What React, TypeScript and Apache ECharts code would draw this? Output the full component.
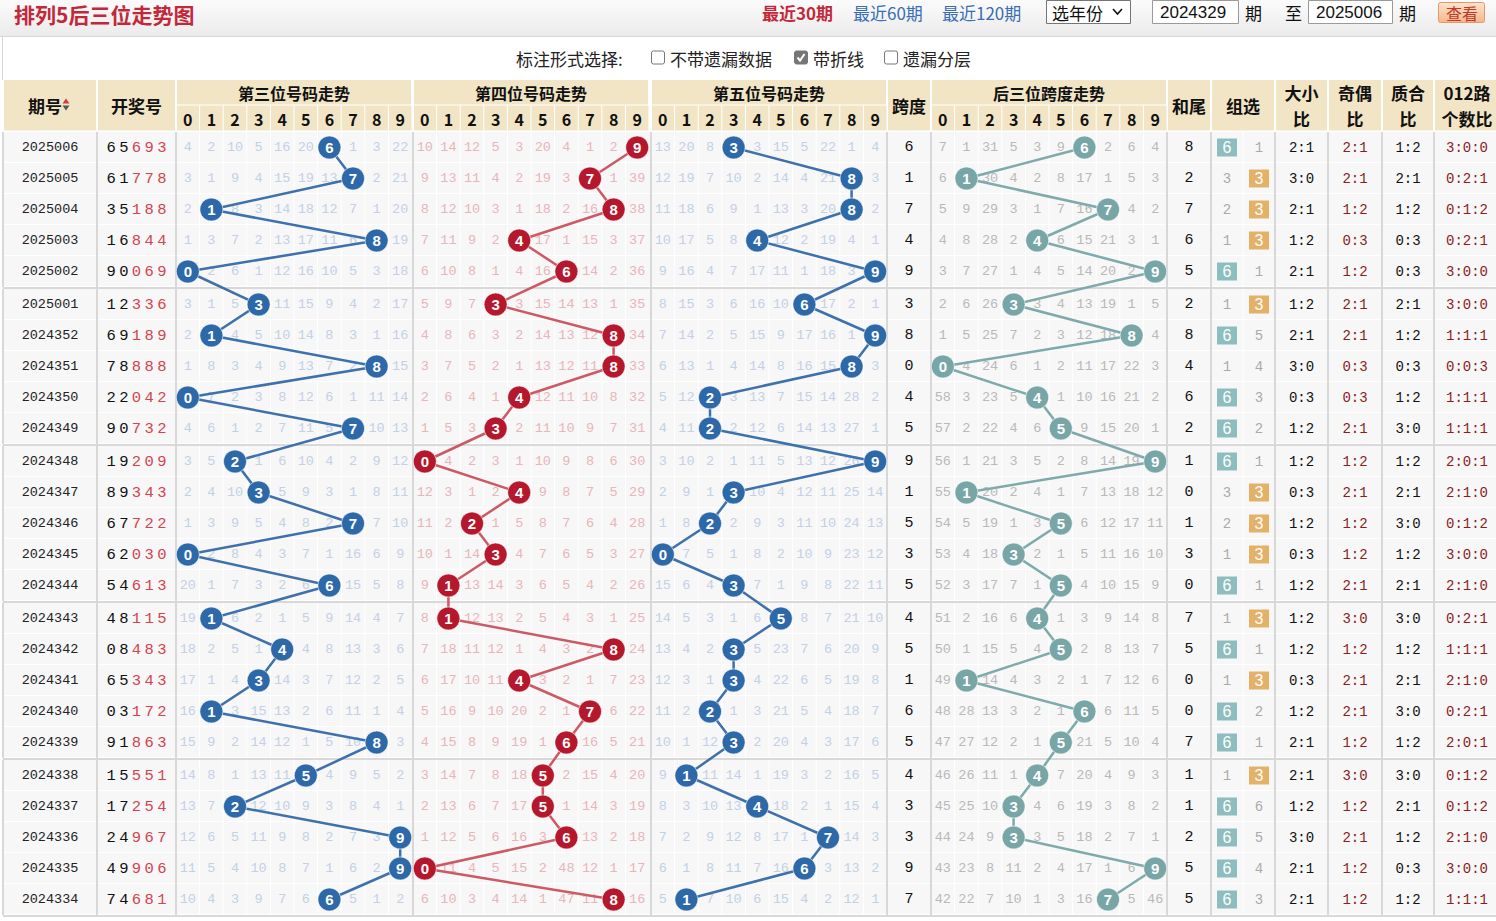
import React, { useEffect, useRef } from "react";
import * as echarts from "echarts";

// ---------------- DATA ----------------
const issues = ["2025006","2025005","2025004","2025003","2025002","2025001","2024352","2024351","2024350","2024349","2024348","2024347","2024346","2024345","2024344","2024343","2024342","2024341","2024340","2024339","2024338","2024337","2024336","2024335","2024334"];
const draws = ["65693","61778","35188","16844","90069","12336","69189","78888","22042","90732","19209","89343","67722","62030","54613","48115","08483","65343","03172","91863","15551","17254","24967","49906","74681"];
const digitTicks = ["0","1","2","3","4","5","6","7","8","9"];

// omission values (0 = hit cell, drawn as a ball)
const miss3 = [
  [4,2,10,5,16,20,0,1,3,22],[3,1,9,4,15,19,13,0,2,21],[2,0,8,3,14,18,12,7,1,20],[1,3,7,2,13,17,11,6,0,19],[0,2,6,1,12,16,10,5,3,18],
  [3,1,5,0,11,15,9,4,2,17],[2,0,4,5,10,14,8,3,1,16],[1,8,3,4,9,13,7,2,0,15],[0,7,2,3,8,12,6,1,11,14],[4,6,1,2,7,11,5,0,10,13],
  [3,5,0,1,6,10,4,2,9,12],[2,4,10,0,5,9,3,1,8,11],[1,3,9,5,4,8,2,0,7,10],[0,2,8,4,3,7,1,16,6,9],[20,1,7,3,2,6,0,15,5,8],
  [19,0,6,2,1,5,9,14,4,7],[18,2,5,1,0,4,8,13,3,6],[17,1,4,0,14,3,7,12,2,5],[16,0,3,15,13,2,6,11,1,4],[15,9,2,14,12,1,5,10,0,3],
  [14,8,1,13,11,0,4,9,5,2],[13,7,0,12,10,9,3,8,4,1],[12,6,5,11,9,8,2,7,3,0],[11,5,4,10,8,7,1,6,2,0],[10,4,3,9,7,6,0,5,1,2]
];
const miss4 = [
  [10,14,12,5,3,20,4,1,2,0],[9,13,11,4,2,19,3,0,1,39],[8,12,10,3,1,18,2,16,0,38],[7,11,9,2,0,17,1,15,3,37],[6,10,8,1,4,16,0,14,2,36],
  [5,9,7,0,3,15,14,13,1,35],[4,8,6,3,2,14,13,12,0,34],[3,7,5,2,1,13,12,11,0,33],[2,6,4,1,0,12,11,10,8,32],[1,5,3,0,2,11,10,9,7,31],
  [0,4,2,3,1,10,9,8,6,30],[12,3,1,2,0,9,8,7,5,29],[11,2,0,1,5,8,7,6,4,28],[10,1,14,0,4,7,6,5,3,27],[9,0,13,14,3,6,5,4,2,26],
  [8,0,12,13,2,5,4,3,1,25],[7,18,11,12,1,4,3,2,0,24],[6,17,10,11,0,3,2,1,7,23],[5,16,9,10,20,2,1,0,6,22],[4,15,8,9,19,1,0,16,5,21],
  [3,14,7,8,18,0,2,15,4,20],[2,13,6,7,17,0,1,14,3,19],[1,12,5,6,16,3,0,13,2,18],[0,11,4,5,15,2,48,12,1,17],[6,10,3,4,14,1,47,11,0,16]
];
const miss5 = [
  [13,20,8,0,3,15,5,22,1,4],[12,19,7,10,2,14,4,21,0,3],[11,18,6,9,1,13,3,20,0,2],[10,17,5,8,0,12,2,19,4,1],[9,16,4,7,17,11,1,18,3,0],
  [8,15,3,6,16,10,0,17,2,1],[7,14,2,5,15,9,17,16,1,0],[6,13,1,4,14,8,16,15,0,3],[5,12,0,3,13,7,15,14,28,2],[4,11,0,2,12,6,14,13,27,1],
  [3,10,2,1,11,5,13,12,26,0],[2,9,1,0,10,4,12,11,25,14],[1,8,0,2,9,3,11,10,24,13],[0,7,5,1,8,2,10,9,23,12],[15,6,4,0,7,1,9,8,22,11],
  [14,5,3,1,6,0,8,7,21,10],[13,4,2,0,5,23,7,6,20,9],[12,3,1,0,4,22,6,5,19,8],[11,2,0,1,3,21,5,4,18,7],[10,1,12,0,2,20,4,3,17,6],
  [9,0,11,14,1,19,3,2,16,5],[8,3,10,13,0,18,2,1,15,4],[7,2,9,12,8,17,1,0,14,3],[6,1,8,11,7,16,0,3,13,2],[5,0,7,10,6,15,4,2,12,1]
];
const spans = [6,1,7,4,9,3,8,0,4,5,9,1,5,3,5,4,5,1,6,5,4,3,3,9,7];
const missSpan = [
  [7,1,31,5,3,9,0,2,6,4],[6,0,30,4,2,8,17,1,5,3],[5,9,29,3,1,7,16,0,4,2],[4,8,28,2,0,6,15,21,3,1],[3,7,27,1,4,5,14,20,2,0],
  [2,6,26,0,3,4,13,19,1,5],[1,5,25,7,2,3,12,18,0,4],[0,4,24,6,1,2,11,17,22,3],[58,3,23,5,0,1,10,16,21,2],[57,2,22,4,6,0,9,15,20,1],
  [56,1,21,3,5,2,8,14,19,0],[55,0,20,2,4,1,7,13,18,12],[54,5,19,1,3,0,6,12,17,11],[53,4,18,0,2,1,5,11,16,10],[52,3,17,7,1,0,4,10,15,9],
  [51,2,16,6,0,1,3,9,14,8],[50,1,15,5,4,0,2,8,13,7],[49,0,14,4,3,2,1,7,12,6],[48,28,13,3,2,1,0,6,11,5],[47,27,12,2,1,0,21,5,10,4],
  [46,26,11,1,0,7,20,4,9,3],[45,25,10,0,4,6,19,3,8,2],[44,24,9,0,3,5,18,2,7,1],[43,23,8,11,2,4,17,1,6,0],[42,22,7,10,1,3,16,0,5,46]
];
const sumTails = [8,2,7,6,5,2,8,4,6,2,1,0,1,3,0,7,5,0,0,7,1,1,2,5,5];
const zu6Miss = [0,3,2,1,0,1,0,1,0,0,0,3,2,1,0,1,0,1,0,0,1,0,0,0,0];
const zu3Miss = [1,0,0,0,1,0,5,4,3,2,1,0,0,0,1,0,1,0,2,1,0,6,5,4,3];
const bigSmall = ["2:1","3:0","2:1","1:2","2:1","1:2","2:1","3:0","0:3","1:2","1:2","0:3","1:2","0:3","1:2","1:2","1:2","0:3","1:2","2:1","2:1","1:2","3:0","2:1","2:1"];
const oddEven = ["2:1","2:1","1:2","0:3","1:2","2:1","2:1","0:3","0:3","2:1","1:2","2:1","1:2","1:2","2:1","3:0","1:2","2:1","2:1","1:2","3:0","1:2","2:1","1:2","1:2"];
const primeComp = ["1:2","2:1","1:2","0:3","0:3","2:1","1:2","0:3","1:2","3:0","1:2","2:1","3:0","1:2","2:1","3:0","1:2","2:1","3:0","1:2","3:0","2:1","1:2","0:3","1:2"];
const road012 = ["3:0:0","0:2:1","0:1:2","0:2:1","3:0:0","3:0:0","1:1:1","0:0:3","1:1:1","1:1:1","2:0:1","2:1:0","0:1:2","3:0:0","2:1:0","0:2:1","1:1:1","2:1:0","0:2:1","2:0:1","0:1:2","0:1:2","2:1:0","3:0:0","1:1:1"];

// ---------------- LAYOUT ----------------
const W = 1496, H = 921;
const CELL_W = 23.6;
const ROW_H = 31;
const GROUP_GAP = 2;
const HEAD_TOP = 80;
const HEAD_MID = 105.5;
const BODY_TOP = 132;
const TABLE_LEFT = 3;
const L: any = {
  issue: { x: 3, w: 94 },
  draw: { x: 97, w: 79 },
  p3: { x: 176, w: 236 },
  p4: { x: 413, w: 236 },
  p5: { x: 651, w: 236 },
  span: { x: 887, w: 44 },
  spanTrend: { x: 931, w: 236 },
  sumTail: { x: 1167, w: 44 },
  group: { x: 1211, w: 64 },
  bs: { x: 1275, w: 53 },
  oe: { x: 1328, w: 54 },
  pc: { x: 1382, w: 52 },
  road: { x: 1434, w: 66 },
};
const rowTop = (i: number) => BODY_TOP + i * ROW_H + Math.floor(i / 5) * GROUP_GAP;
const rowCenter = (i: number) => rowTop(i) + ROW_H / 2;
const cellCenter = (key: string, d: number) => L[key].x + (d + 0.5) * CELL_W;

const MONO = '"Liberation Mono", "DejaVu Sans Mono", monospace';
const CJK = '"Noto Sans CJK SC", "Noto Sans", sans-serif';
const SANS = '"Liberation Sans", Arial, sans-serif';
const BEIGE = "#f1e5c5";
const CELL_BG = "#f7f7f7";
const SEP = "#d8d8d8";

function makeHelpers(api: any, ch: any[]) {
  const R = (x: number, y: number, w: number, h: number, fill: string) => {
    const p = api.coord([x, y]);
    const s = api.size([w, h]);
    ch.push({ type: "rect", shape: { x: p[0], y: p[1], width: s[0], height: s[1] }, style: { fill } });
  };
  const T = (x: number, y: number, text: string, fill: string, size: number, family: string, weight = "normal") => {
    const p = api.coord([x, y]);
    ch.push({
      type: "text", x: p[0], y: p[1],
      style: { text, fill, fontSize: size, fontFamily: family, fontWeight: weight, align: "center", verticalAlign: "middle", textAlign: "center", textVerticalAlign: "middle" },
    });
  };
  return { R, T };
}

function renderHeader(params: any, api: any) {
  const ch: any[] = [];
  const { R, T } = makeHelpers(api, ch);
  const top = HEAD_TOP, mid = HEAD_MID, bot = BODY_TOP - 0.5;
  const full: [string, string][] = [["issue", "期号"], ["draw", "开奖号"], ["span", "跨度"], ["sumTail", "和尾"], ["group", "组选"]];
  full.forEach(([k, label]) => {
    const c = L[k];
    R(c.x + 1, top, c.w - 2, bot - top - 1, BEIGE);
    const cx = k === "issue" ? c.x + c.w / 2 - 5 : c.x + c.w / 2;
    T(cx, (top + bot) / 2, label, "#111", 17, CJK, "bold");
  });
  const two: [string, string, string][] = [["bs", "大小", "比"], ["oe", "奇偶", "比"], ["pc", "质合", "比"], ["road", "012路", "个数比"]];
  two.forEach(([k, a, b]) => {
    const c = L[k];
    R(c.x + 1, top, c.w - 2, bot - top - 1, BEIGE);
    T(c.x + c.w / 2, (top + mid) / 2, a, "#111", 17, CJK, "bold");
    T(c.x + c.w / 2, (mid + bot) / 2, b, "#111", 17, CJK, "bold");
  });
  const sections: [string, string][] = [["p3", "第三位号码走势"], ["p4", "第四位号码走势"], ["p5", "第五位号码走势"], ["spanTrend", "后三位跨度走势"]];
  sections.forEach(([k, label]) => {
    const c = L[k];
    R(c.x + 1, top, c.w - 2, mid - top - 1, BEIGE);
    T(c.x + c.w / 2, (top + mid) / 2, label, "#111", 16, CJK, "bold");
    digitTicks.forEach((t, d) => {
      R(c.x + d * CELL_W + (d === 0 ? 1 : 0.5), mid, CELL_W - (d === 0 ? 1.5 : 1), bot - mid - 1, BEIGE);
      T(cellCenter(k, d), (mid + bot) / 2, t, "#111", 16, CJK, "bold");
    });
  });
  // sort arrows
  const a = api.coord([66, 104.5]);
  ch.push({ type: "polygon", shape: { points: [[a[0] - 3.5, a[1] - 1], [a[0] + 3.5, a[1] - 1], [a[0], a[1] - 6]] }, style: { fill: "#d23a44" } });
  ch.push({ type: "polygon", shape: { points: [[a[0] - 3.5, a[1] + 1], [a[0] + 3.5, a[1] + 1], [a[0], a[1] + 6]] }, style: { fill: "#555" } });
  return { type: "group", children: ch };
}

function renderRow(params: any, api: any) {
  const i = params.dataIndex;
  const ch: any[] = [];
  const { R, T } = makeHelpers(api, ch);
  const top = rowTop(i);
  const cy = rowCenter(i);
  // background
  R(TABLE_LEFT, top, W - TABLE_LEFT, ROW_H, CELL_BG);
  R(TABLE_LEFT, top + ROW_H - 1, W - TABLE_LEFT, 1, "#ffffff");
  ["p3", "p4", "p5", "spanTrend"].forEach((k) => {
    for (let d = 1; d < 10; d++) R(L[k].x + d * CELL_W - 0.5, top, 1, ROW_H, "#ffffff");
  });
  R(L.group.x + L.group.w / 2 - 0.5, top, 1, ROW_H, "#ffffff");
  ["issue", "draw", "p3", "p4", "p5", "span", "spanTrend", "sumTail", "group", "bs", "oe", "pc", "road"].forEach((k) => {
    R(L[k].x - 1, top, 2, ROW_H, SEP);
  });
  if (i % 5 === 4) R(TABLE_LEFT, top + ROW_H, W - TABLE_LEFT, GROUP_GAP, SEP);

  // texts
  T(L.issue.x + L.issue.w / 2, cy, issues[i], "#222", 13.5, MONO);
  const dc = L.draw.x + L.draw.w / 2;
  draws[i].split("").forEach((d, k) => {
    T(dc + (k - 2) * 12.7, cy, d, k < 2 ? "#111" : "#d4434f", 15.5, MONO);
  });
  const omi: [string, number[][], string][] = [["p3", miss3, "#c3d0e6"], ["p4", miss4, "#e8b5b9"], ["p5", miss5, "#c3d0e6"], ["spanTrend", missSpan, "#b9b9b9"]];
  omi.forEach(([k, arr, col]) => {
    arr[i].forEach((v, d) => {
      if (v !== 0) T(cellCenter(k, d), cy, String(v), col, 13.5, MONO);
    });
  });
  T(L.span.x + L.span.w / 2, cy, String(spans[i]), "#111", 15, MONO);
  T(L.sumTail.x + L.sumTail.w / 2, cy, String(sumTails[i]), "#111", 15, MONO);
  const g1 = L.group.x + L.group.w / 4, g2 = L.group.x + (L.group.w * 3) / 4;
  if (zu6Miss[i] === 0) {
    R(g1 - 10, cy - 9, 20, 18, "#8dbdbe");
    T(g1, cy, "6", "#ffffff", 16, SANS);
  } else T(g1, cy, String(zu6Miss[i]), "#aaaaaa", 14, MONO);
  if (zu3Miss[i] === 0) {
    R(g2 - 10, cy - 9, 20, 18, "#e4b169");
    T(g2, cy, "3", "#ffffff", 16, SANS);
  } else T(g2, cy, String(zu3Miss[i]), "#aaaaaa", 14, MONO);
  T(L.bs.x + L.bs.w / 2, cy, bigSmall[i], "#111", 14, MONO);
  T(L.oe.x + L.oe.w / 2, cy, oddEven[i], "#8b1c24", 14, MONO);
  T(L.pc.x + L.pc.w / 2, cy, primeComp[i], "#111", 14, MONO);
  T(L.road.x + L.road.w / 2, cy, road012[i], "#8b1c24", 14, MONO);
  return { type: "group", children: ch };
}

function trend(key: string, digits: number[], ball: string, line: string, name: string) {
  return {
    type: "line",
    name,
    data: digits.map((d, i) => [cellCenter(key, d), rowCenter(i), d]),
    symbol: "circle",
    symbolSize: 23,
    showSymbol: true,
    itemStyle: { color: ball, borderColor: "#ffffff", borderWidth: 0.6 },
    lineStyle: { color: line, width: 2.5 },
    label: {
      show: true, position: "inside",
      formatter: (p: any) => String(p.value[2]),
      color: "#ffffff", fontSize: 15, fontWeight: "bold", fontFamily: SANS,
    },
    emphasis: { disabled: true },
    silent: true,
    z: 5,
    clip: false,
  };
}

function buildOption() {
  const pos = (k: number) => draws.map((d) => Number(d[k]));
  const grad = new echarts.graphic.LinearGradient(0, 0, 0, 1, [
    { offset: 0, color: "#fbfbfb" },
    { offset: 1, color: "#ebebeb" },
  ]);
  const btnGrad = new echarts.graphic.LinearGradient(0, 0, 0, 1, [
    { offset: 0, color: "#fde4cc" },
    { offset: 1, color: "#f6b78a" },
  ]);
  const txt = (x: number, y: number, text: string, fill: string, size: number, weight = "normal", family = CJK) => ({
    type: "text", x, y, style: { text, fill, fontSize: size, fontWeight: weight, fontFamily: family, verticalAlign: "middle" },
  });
  const box = (x: number, checked: boolean) => {
    const els: any[] = [
      { type: "rect", shape: { x, y: 51, width: 13, height: 13, r: 2 }, style: { fill: checked ? "#767676" : "#ffffff", stroke: "#767676", lineWidth: 1 } },
    ];
    if (checked) els.push({ type: "polyline", shape: { points: [[x + 3, 57.5], [x + 5.5, 60.5], [x + 10, 54]] }, style: { stroke: "#ffffff", lineWidth: 2, fill: null } });
    return els;
  };
  const graphic: any[] = [
    { type: "rect", shape: { x: 0, y: 0, width: W, height: 36 }, style: { fill: grad } },
    { type: "rect", shape: { x: 0, y: 36, width: W, height: 1 }, style: { fill: "#d6d6d6" } },
    { type: "rect", shape: { x: 2, y: 37, width: 1, height: 43 }, style: { fill: "#d6d6d6" } },
    txt(14, 14, "排列5后三位走势图", "#c2283a", 21, "bold"),
    txt(762, 12, "最近30期", "#c2283a", 17, "bold"),
    txt(853, 12, "最近60期", "#3a6db5", 17),
    txt(942, 12, "最近120期", "#3a6db5", 17),
    { type: "rect", shape: { x: 1046.5, y: 0.5, width: 84, height: 23 }, style: { fill: "#ffffff", stroke: "#767676", lineWidth: 1 } },
    txt(1052, 12, "选年份", "#111", 17),
    { type: "polyline", shape: { points: [[1113, 9], [1117.5, 14], [1122, 9]] }, style: { stroke: "#111", lineWidth: 1.6, fill: null } },
    { type: "rect", shape: { x: 1152.5, y: 0.5, width: 86, height: 23 }, style: { fill: "#ffffff", stroke: "#9a9a9a", lineWidth: 1 } },
    txt(1160, 12, "2024329", "#111", 17, "normal", SANS),
    txt(1245, 12, "期", "#111", 17),
    txt(1285, 12, "至", "#111", 17),
    { type: "rect", shape: { x: 1308.5, y: 0.5, width: 84, height: 23 }, style: { fill: "#ffffff", stroke: "#9a9a9a", lineWidth: 1 } },
    txt(1316, 12, "2025006", "#111", 17, "normal", SANS),
    txt(1399, 12, "期", "#111", 17),
    { type: "rect", shape: { x: 1438.5, y: 2.5, width: 46, height: 20, r: 2 }, style: { fill: btnGrad, stroke: "#e39a6a", lineWidth: 1 } },
    txt(1446, 12.5, "查看", "#c0392b", 16),
    txt(516, 58, "标注形式选择:", "#222", 17),
    ...box(651.5, false),
    txt(670, 58, "不带遗漏数据", "#222", 17),
    ...box(794.5, true),
    txt(813, 58, "带折线", "#222", 17),
    ...box(884.5, false),
    txt(903, 58, "遗漏分层", "#222", 17),
  ];
  return {
    animation: false,
    backgroundColor: "#ffffff",
    grid: { left: 0, right: 0, top: 0, bottom: 0, containLabel: false },
    xAxis: { type: "value", min: 0, max: W, show: false },
    yAxis: { type: "value", min: 0, max: H, inverse: true, show: false },
    graphic,
    series: [
      { type: "custom", name: "header", data: [[0, HEAD_TOP]], renderItem: renderHeader, silent: true, z: 1 },
      { type: "custom", name: "rows", data: issues.map((_, i) => [0, rowCenter(i)]), renderItem: renderRow, silent: true, z: 2 },
      trend("p3", pos(2), "#2d68a8", "#3e70ac", "第三位"),
      trend("p4", pos(3), "#b5172c", "#cc5966", "第四位"),
      trend("p5", pos(4), "#2d68a8", "#3e70ac", "第五位"),
      trend("spanTrend", spans, "#78a6a7", "#7eaaab", "跨度"),
    ],
  };
}

export default function App() {
  const ref = useRef<HTMLDivElement>(null);
  useEffect(() => {
    document.body.style.margin = "0";
    const chart = echarts.init(ref.current as HTMLDivElement, null, { renderer: "svg" });
    chart.setOption(buildOption() as any);
    return () => chart.dispose();
  }, []);
  return <div ref={ref} style={{ width: W, height: H, position: "absolute", left: 0, top: 0, background: "#fff" }} />;
}
